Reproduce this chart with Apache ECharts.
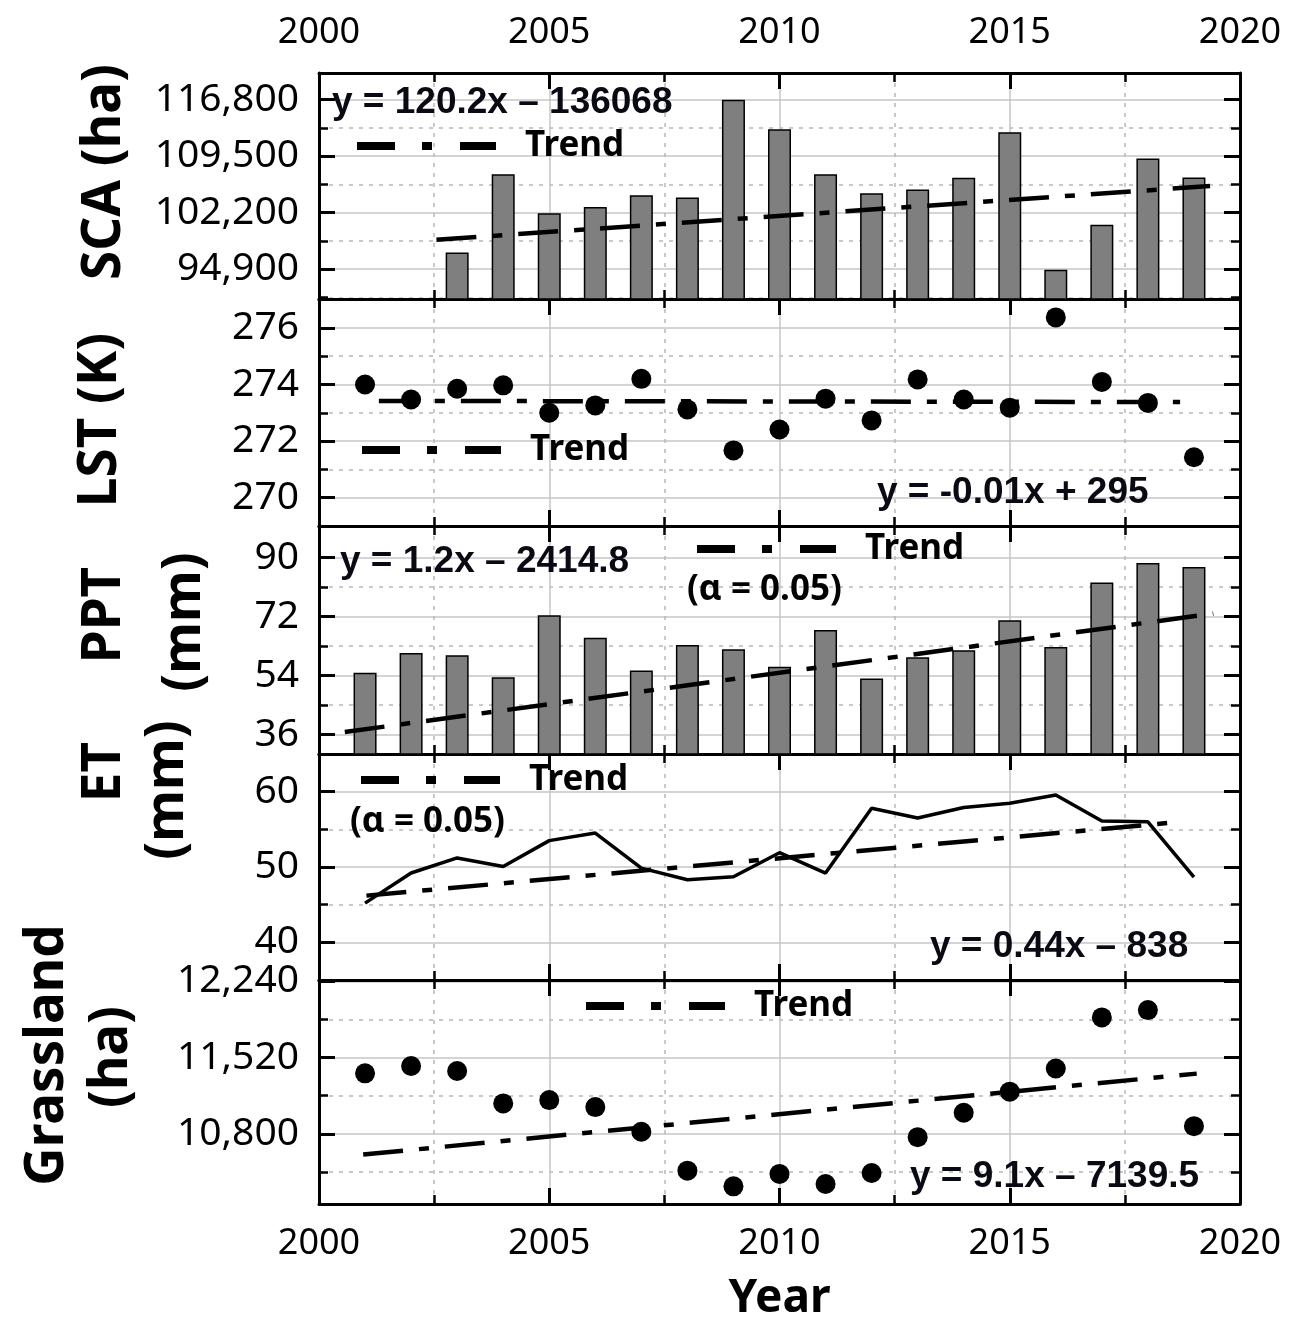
<!DOCTYPE html>
<html>
<head>
<meta charset="utf-8">
<script src="https://cdn.jsdelivr.net/npm/echarts@6/dist/echarts.min.js"></script>
<style>html,body{margin:0;padding:0;background:#fff}#c{width:1296px;height:1319px}</style>
</head>
<body>
<div id="c"></div>
<script>
// ---------- data ----------
const years = [2001,2002,2003,2004,2005,2006,2007,2008,2009,2010,2011,2012,2013,2014,2015,2016,2017,2018,2019];
const scaYears = [2003,2004,2005,2006,2007,2008,2009,2010,2011,2012,2013,2014,2015,2016,2017,2018,2019];
const scaValues = [97050,107180,102120,102930,104440,104180,116800,112980,107180,104700,105210,106710,112590,94820,100650,109200,106760];
const lstValues = [274.0,273.47,273.85,273.97,273.0,273.26,274.2,273.12,271.67,272.41,273.5,272.73,274.18,273.47,273.18,276.37,274.09,273.35,271.43];
const pptValues = [54.9,60.85,60.2,53.5,72.4,65.55,55.56,63.3,62.0,56.7,67.9,53.1,59.6,61.7,70.9,62.7,82.4,88.3,87.1];
const etValues = [45.2,49.2,51.2,50.07,53.5,54.5,49.85,48.3,48.7,51.9,49.2,57.8,56.5,57.9,58.45,59.56,56.1,56.0,48.66];
const grassValues = [11371,11440,11393,11087,11118,11052,10819,10452,10304,10421,10326,10430,10768,10999,11198,11416,11899,11968,10872];

// trend lines (end points)
const scaTrend = [[2002.55,98700],[2019.35,105650]];
const lstTrend = [[2001.3,273.42],[2018.7,273.38]];
const pptTrend = [[2000.56,36.8],[2019.42,72.9]];
const etTrend = [[2001.03,46.2],[2018.55,55.9]];
const grassTrend = [[2000.96,10604],[2019.06,11368]];

// tick labels
const xTicks = [2000,2005,2010,2015,2020];
const scaTicks = [94900,102200,109500,116800];
const scaMinor = [91250,98550,105850,113150];
const lstTicks = [270,272,274,276];
const lstMinor = [271,273,275];
const pptTicks = [36,54,72,90];
const pptMinor = [45,63,81];
const etTicks = [40,50,60];
const etMinor = [45,55];
const grassTicks = [10800,11520,12240];
const grassMinor = [10440,11160,11880];

const equations = ['y = 120.2x \u2013 136068','y = -0.01x + 295','y = 1.2x \u2013 2414.8','y = 0.44x \u2013 838','y = 9.1x \u2013 7139.5'];
// title pieces: [text, centerX, centerY]
const titleParts = [['SCA (ha)',105,172],['LST (K)',101,420],['PPT',105,615],['(mm)',185,622],
  ['ET',105,772],['(mm)',168,790],['Grassland',48,1055],['(ha)',112,1057]];

// ---------- layout ----------
const panels = [
  {top:73, height:226, min:91050, max:120250, major:scaTicks, minor:scaMinor, comma:true},
  {top:299, height:227, min:269, max:277.02, major:lstTicks, minor:lstMinor},
  {top:526, height:228, min:30.1, max:99.6, major:pptTicks, minor:pptMinor},
  {top:754, height:226, min:35, max:65, major:etTicks, minor:etMinor},
  {top:980, height:224, min:10137, max:12252, major:grassTicks, minor:grassMinor, comma:true}
];
const LEFT = 319, RIGHT = 56;
const BLACK = '#000';
const tickFont = 'Noto Sans';

const grid = panels.map(p => ({left:LEFT, right:RIGHT, top:p.top, height:p.height, show:false,
  containLabel:false, outerBoundsMode:'none'}));
const xAxis = [];
const yAxis = [];
panels.forEach((p, g) => {
  const common = {gridIndex:g, type:'value', min:2000, max:2020, interval:5,
    axisLine:{show:true, onZero:false, lineStyle:{color:BLACK, width:3}},
    axisTick:{show:true, inside:true, length:16, lineStyle:{color:BLACK, width:3}},
    minorTick:{show:true, splitNumber:2, length:9, lineStyle:{color:BLACK, width:2.5}}};
  const xl = {margin:22, fontSize:36, fontFamily:tickFont, color:BLACK, formatter:v => String(v)};
  xAxis.push(Object.assign({}, common, {position:'bottom',
    axisLabel:Object.assign({show:g===4}, xl),
    splitLine:{show:true, lineStyle:{color:'#c6c6c6', width:1.5}},
    minorSplitLine:{show:true, lineStyle:{color:'#b8b8b8', width:1.5, type:[4,6]}},
    name: g===4 ? 'Year' : '', nameLocation:'middle', nameGap:72,
    nameTextStyle:{fontSize:46, fontWeight:'bold', fontFamily:'Noto Sans', color:BLACK}}));
  xAxis.push(Object.assign({}, common, {position:'top',
    axisLabel:Object.assign({show:g===0}, xl),
    splitLine:{show:false}, minorSplitLine:{show:false}}));
  const fmt = v => p.comma ? Number(v).toLocaleString('en-US') : String(v);
  const yc = {gridIndex:g, type:'value', min:p.min, max:p.max, scale:true};
  yAxis.push(Object.assign({}, yc, {position:'left',
    axisLine:{show:true, onZero:false, lineStyle:{color:BLACK, width:3}},
    axisTick:{show:true, inside:true, length:16, customValues:p.major, lineStyle:{color:BLACK, width:3}},
    axisLabel:{show:true, customValues:p.major, formatter:fmt, margin:20, fontSize:39, fontFamily:tickFont, color:BLACK},
    splitLine:{show:true, lineStyle:{color:'#c6c6c6', width:1.5}}}));
  yAxis.push(Object.assign({}, yc, {position:'left',
    axisLine:{show:false},
    axisTick:{show:true, inside:true, length:9, customValues:p.minor, lineStyle:{color:BLACK, width:2.5}},
    axisLabel:{show:false},
    splitLine:{show:true, lineStyle:{color:'#b8b8b8', width:1.5, type:[4,6]}}}));
  yAxis.push(Object.assign({}, yc, {position:'right',
    axisLine:{show:true, onZero:false, lineStyle:{color:BLACK, width:3}},
    axisTick:{show:true, inside:true, length:16, customValues:p.major, lineStyle:{color:BLACK, width:3}},
    axisLabel:{show:false}, splitLine:{show:false}}));
  yAxis.push(Object.assign({}, yc, {position:'right',
    axisLine:{show:false},
    axisTick:{show:true, inside:true, length:9, customValues:p.minor, lineStyle:{color:BLACK, width:2.5}},
    axisLabel:{show:false}, splitLine:{show:false}}));
});

const trendStyle = {color:BLACK, width:4.5, type:[40,16,10,16]};
function trend(g, data){
  return {name:'Trend', type:'line', xAxisIndex:2*g, yAxisIndex:4*g, data:data,
    symbol:'none', lineStyle:trendStyle, itemStyle:{color:BLACK}, z:5, silent:true};
}
const pair = (xs, vs) => xs.map((x,i)=>[x, vs[i]]);

const series = [
  {type:'bar', xAxisIndex:0, yAxisIndex:0, data:pair(scaYears, scaValues), barWidth:23,
    itemStyle:{color:'#7f7f7f', borderColor:BLACK, borderWidth:1.5}},
  trend(0, scaTrend),
  {type:'scatter', xAxisIndex:2, yAxisIndex:4, data:pair(years, lstValues), symbolSize:20,
    itemStyle:{color:BLACK, opacity:1}, z:6},
  trend(1, lstTrend),
  {type:'bar', xAxisIndex:4, yAxisIndex:8, data:pair(years, pptValues), barWidth:23,
    itemStyle:{color:'#7f7f7f', borderColor:BLACK, borderWidth:1.5}},
  trend(2, pptTrend),
  {type:'line', xAxisIndex:6, yAxisIndex:12, data:pair(years, etValues), symbol:'none',
    lineStyle:{color:BLACK, width:3.5}, z:6},
  trend(3, etTrend),
  {type:'scatter', xAxisIndex:8, yAxisIndex:16, data:pair(years, grassValues), symbolSize:20,
    itemStyle:{color:BLACK, opacity:1}, z:6},
  trend(4, grassTrend)
];

// legends: [iconLeft, centerY]
const legendPos = [[353,146],[358,450],[693,549],[357,780],[582,1006]];
const legend = legendPos.map(([lx, cy]) => ({
  left:lx, top:cy-20, padding:0, data:['Trend'], itemWidth:139, itemHeight:10,
  selectedMode:false,
  lineStyle:{width:8, type:[38,27,10,28], color:BLACK},
  textStyle:{fontSize:35, fontWeight:'bold', fontFamily:'Noto Sans', color:BLACK, lineHeight:40, padding:[0,0,0,24]}
}));

const eqPos = [[332,103],[877,493],[340,562],[930,947],[910,1177]];
const graphic = [];
eqPos.forEach(([x,y],i) => graphic.push({type:'text', x:x, y:y, z:100,
  style:{text:equations[i], font:'bold 37px "Liberation Sans"', fill:'#0a0a14', textAlign:'left', textVerticalAlign:'middle'}}));
[[687,590],[350,822]].forEach(([x,y]) => graphic.push({type:'text', x:x, y:y, z:100,
  style:{text:'(\u03b1 = 0.05)', font:'bold 35px "Noto Sans"', fill:BLACK, textAlign:'left', textVerticalAlign:'middle'}}));
titleParts.forEach(([t,x,y]) => graphic.push({type:'text', x:x, y:y, rotation:Math.PI/2, z:100,
  style:{text:t, font:'bold 53px "Noto Sans"', fill:BLACK, textAlign:'center', textVerticalAlign:'middle'}}));

const chart = echarts.init(document.getElementById('c'), null, {renderer:'canvas'});
chart.setOption({animation:false, backgroundColor:'#fff', grid, xAxis, yAxis, series, legend, graphic});
</script>
</body>
</html>
